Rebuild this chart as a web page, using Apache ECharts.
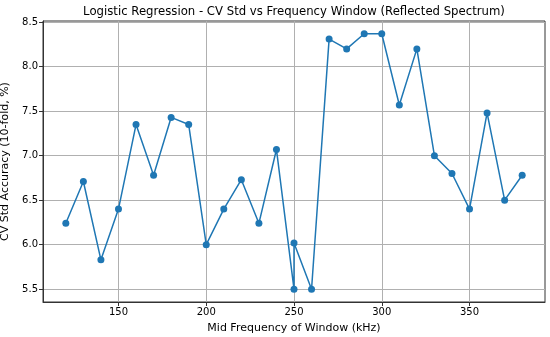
<!DOCTYPE html>
<html><head><meta charset="utf-8">
<script src="https://cdn.jsdelivr.net/npm/echarts@6/dist/echarts.min.js"></script>
<style>html,body{margin:0;padding:0;background:#fff}#c{width:550px;height:337px}</style>
</head><body><div id="c"></div>
<script>
const xValues = [120,130,140,150,160,170,180,190,200,210,220,230,240,250,250,260,270,280,290,300,310,320,330,340,350,360,370,380];
const stdValues = [6.24,6.71,5.83,6.40,7.35,6.78,7.43,7.35,6.00,6.40,6.73,6.24,7.07,5.50,6.02,5.50,8.31,8.20,8.37,8.37,7.57,8.20,7.00,6.80,6.40,7.48,6.50,6.78];
const xTicks = [150,200,250,300,350];
const yTicks = [5.5,6.0,6.5,7.0,7.5,8.0,8.5];
const titleText = 'Logistic Regression - CV Std vs Frequency Window (Reflected Spectrum)';
const xName = 'Mid Frequency of Window (kHz)';
const yName = 'CV Std Accuracy (10-fold, %)';

const font = 'DejaVu Sans';
const chart = echarts.init(document.getElementById('c'), null, {renderer:'canvas'});
const data = xValues.map((x,i)=>[x, stdValues[i]]);
chart.setOption({
  animation:false,
  title:{text:titleText, left:289, top:1, textAlign:'center',
    textStyle:{fontFamily:font, fontSize:11.7, fontWeight:'normal', color:'#000'}},
  grid:{left:43, right:5, top:21, bottom:35, show:true, borderColor:'#333', borderWidth:1,
    backgroundColor:'transparent', containLabel:false, outerBoundsMode:'none'},
  xAxis:{type:'value', min:107, max:393,
    name:xName, nameLocation:'middle', nameGap:21,
    nameTextStyle:{fontFamily:font, fontSize:11, color:'#000'},
    axisLine:{show:true, lineStyle:{color:'#333', width:1}},
    axisTick:{show:true, length:4, lineStyle:{color:'#333'}, customValues:xTicks},
    axisLabel:{fontFamily:font, fontSize:10, color:'#000', margin:5, customValues:xTicks,
      formatter:v=>String(v)},
    splitLine:{show:true, lineStyle:{color:'#b0b0b0', width:1}}
  },
  yAxis:{type:'value', min:5.356, max:8.5135,
    name:yName, nameLocation:'middle', nameGap:32, nameRotate:90,
    nameTextStyle:{fontFamily:font, fontSize:11, color:'#000'},
    axisLine:{show:true, lineStyle:{color:'#333', width:1}},
    axisTick:{show:true, length:4, lineStyle:{color:'#333'}, customValues:yTicks},
    axisLabel:{fontFamily:font, fontSize:10, color:'#000', margin:5, customValues:yTicks,
      formatter:v=>v.toFixed(1)},
    splitLine:{show:true, lineStyle:{color:'#b0b0b0', width:1}}
  },
  series:[{type:'line', data:data, color:'#1f77b4', symbol:'circle', symbolSize:7,
    lineStyle:{width:1.5, color:'#1f77b4'}, itemStyle:{color:'#1f77b4'}}]
});
</script></body></html>
